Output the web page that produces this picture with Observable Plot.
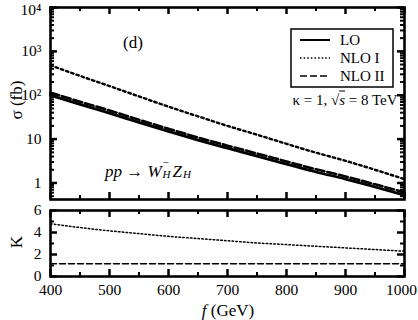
<!DOCTYPE html>
<html><head><meta charset="utf-8">
<script src="https://cdn.jsdelivr.net/npm/d3@7"></script>
<script src="https://cdn.jsdelivr.net/npm/@observablehq/plot@0.6"></script>
<style>
body{margin:0;background:#fff;}
#wrap{position:relative;width:418px;height:320px;font-family:"Liberation Serif","Times New Roman",serif;color:#000;overflow:hidden;background:#fff}
#wrap svg{position:absolute;left:0}
.t{position:absolute;white-space:nowrap;font-size:16px;line-height:1;transform:translate(-50%,-50%)}
.ss{display:inline-block;position:relative;width:11px;height:1em;vertical-align:baseline}
.ss .up{position:absolute;left:1px;top:-3px;font-size:11px;line-height:1}
.ss .dn{position:absolute;left:1px;top:9px;font-size:11px;line-height:1}
</style></head><body><div id="wrap"></div>
<script>
// ---- data ----
const fValues   = [400, 450, 500, 550, 600, 650, 700, 750, 800, 850, 900, 950, 1000];
const sigmaLO   = [100, 62, 39, 24, 15, 9.5, 6.2, 4.1, 2.7, 1.78, 1.23, 0.81, 0.53];
const sigmaNLO1 = [480, 276, 162, 94, 55, 33, 20, 12.6, 7.8, 4.9, 3.2, 2.0, 1.22];
const sigmaNLO2 = [115, 71, 45, 27.5, 17.2, 10.9, 7.1, 4.7, 3.1, 2.05, 1.41, 0.93, 0.61];
const kNLO1     = [4.8, 4.45, 4.15, 3.9, 3.65, 3.45, 3.25, 3.05, 2.9, 2.75, 2.6, 2.45, 2.3];
const kNLO2     = [1.15, 1.15, 1.15, 1.15, 1.15, 1.15, 1.15, 1.15, 1.15, 1.15, 1.15, 1.15, 1.15];
const seriesNames = ["LO", "NLO I", "NLO II"];
const xTicks      = [400, 500, 600, 700, 800, 900, 1000];
const xMinorTicks = [450, 550, 650, 750, 850, 950];
const yTicks      = [1, 10, 100, 1000, 10000];
const yTickLabels = ["1", "10", "10\u00B2", "10\u00B3", "10\u2074"];
const kTicks      = [0, 2, 4, 6];
const kMinorTicks = [1, 3, 5];

// ---- styles ----
const FONT = '"Liberation Serif","Times New Roman",serif';
const W = 418, ML = 50, MR = 14;
const innerW = W - ML - MR;
const dashTop = {"LO": null, "NLO I": "2.5,3", "NLO II": "9,3"};
const widthTop = {"LO": 2.8, "NLO I": 2.4, "NLO II": 2.6};

const rows = (arr) => fValues.map((f, i) => ({f, v: arr[i]}));
const topSeries = [sigmaLO, sigmaNLO1, sigmaNLO2];

const yMinor = d3.scaleLog().domain([0.42, 10000]).ticks().filter(d => !yTicks.includes(d));
const yMax = yTicks[yTicks.length - 1];
const xMax = xTicks[xTicks.length - 1];

function frameTicksX(innerH, major, minor) {
  return [
    Plot.tickX(major, {x: d => d, insetTop: innerH - 7, strokeWidth: 2.5}),
    Plot.tickX(major, {x: d => d, insetBottom: innerH - 7, strokeWidth: 2.5}),
    Plot.tickX(minor, {x: d => d, insetTop: innerH - 4, strokeWidth: 2}),
    Plot.tickX(minor, {x: d => d, insetBottom: innerH - 4, strokeWidth: 2})
  ];
}
function frameTicksY(major, minor) {
  return [
    Plot.tickY(major, {y: d => d, insetRight: innerW - 7, strokeWidth: 2.5}),
    Plot.tickY(major, {y: d => d, insetLeft: innerW - 7, strokeWidth: 2.5}),
    Plot.tickY(minor, {y: d => d, insetRight: innerW - 4, strokeWidth: 2}),
    Plot.tickY(minor, {y: d => d, insetLeft: innerW - 4, strokeWidth: 2})
  ];
}

const topH = 200, topMT = 7, topMB = 1;
const yFmt = d => yTickLabels[yTicks.indexOf(d)];
const plainFmt = d => String(d);
const topPlot = Plot.plot({
  width: W, height: topH,
  marginLeft: ML, marginRight: MR, marginTop: topMT, marginBottom: topMB,
  x: {domain: [400, 1000], axis: null},
  y: {type: "log", domain: [0.42, 10000], label: null},
  style: {fontFamily: FONT, fontSize: "15.5px", overflow: "visible", background: "transparent"},
  marks: [
    ...seriesNames.map((s, i) => Plot.line(rows(topSeries[i]), {
      x: "f", y: "v", curve: "monotone-x", stroke: "black",
      strokeWidth: widthTop[s], strokeDasharray: dashTop[s]
    })),
    ...frameTicksX(topH - topMT - topMB, xTicks, xMinorTicks),
    ...frameTicksY(yTicks, yMinor),
    Plot.frame({stroke: "black", strokeWidth: 2.6}),
    Plot.axisY(yTicks.filter(d => d !== yMax), {tickSize: 0, tickPadding: 9, label: null, fontSize: 15.5, tickFormat: yFmt}),
    Plot.axisY([yMax], {tickSize: 0, tickPadding: 9, label: null, fontSize: 15.5, tickFormat: yFmt, dy: 3})
  ]
});
topPlot.style.top = "0px";

const botH = 120, botMT = 10, botMB = 44;
const dashBot = {"NLO I": "1.6,2.2", "NLO II": "6,3"};
const botPlot = Plot.plot({
  width: W, height: botH,
  marginLeft: ML, marginRight: MR, marginTop: botMT, marginBottom: botMB,
  x: {domain: [400, 1000], label: null},
  y: {domain: [0, 6], label: null},
  style: {fontFamily: FONT, fontSize: "15.5px", overflow: "visible", background: "transparent"},
  marks: [
    Plot.line(rows(kNLO1), {x: "f", y: "v", curve: "monotone-x", stroke: "black", strokeWidth: 1.5, strokeDasharray: dashBot["NLO I"]}),
    Plot.line(rows(kNLO2), {x: "f", y: "v", curve: "monotone-x", stroke: "black", strokeWidth: 1.5, strokeDasharray: dashBot["NLO II"]}),
    ...frameTicksX(botH - botMT - botMB, xTicks, xMinorTicks),
    ...frameTicksY(kTicks, kMinorTicks),
    Plot.frame({stroke: "black", strokeWidth: 2.6}),
    Plot.axisY(kTicks, {tickSize: 0, tickPadding: 9, label: null, fontSize: 15.5, tickFormat: plainFmt}),
    Plot.axisX(xTicks.filter(d => d !== xMax), {tickSize: 0, tickPadding: 7, label: null, fontSize: 15.5, tickFormat: plainFmt}),
    Plot.axisX([xMax], {tickSize: 0, tickPadding: 7, label: null, fontSize: 15.5, tickFormat: plainFmt, dx: -3})
  ]
});
botPlot.style.top = "200px";

const wrap = document.getElementById("wrap");
wrap.appendChild(topPlot);
wrap.appendChild(botPlot);

function addText(html, x, y, extra = "") {
  const d = document.createElement("div");
  d.className = "t";
  d.style.left = x + "px";
  d.style.top = y + "px";
  if (extra) d.style.cssText += extra;
  d.innerHTML = html;
  wrap.appendChild(d);
  return d;
}

// annotations
addText("(d)", 133, 42, "font-size:17px");
addText("\u03BA = 1, \u221A<span style='text-decoration:overline'><i>s</i></span> = 8 TeV", 345, 100, "font-size:15px");
addText("<i>pp</i> \u2192 <i>W</i><span class='ss'><span class='up'>\u2212</span><i class='dn'>H</i></span><i>Z</i><span class='ss' style='width:9px'><i class='dn'>H</i></span>", 148, 170, "font-size:17px");
addText("\u03C3 (fb)", 16, 100, "transform:translate(-50%,-50%) rotate(-90deg);font-size:17px");
addText("K", 16, 242, "transform:translate(-50%,-50%) rotate(-90deg);font-size:17px");
addText("<i>f</i> (GeV)", 228, 310, "font-size:17px");

// legend
const leg = d3.select(wrap).append("svg")
  .attr("width", 104).attr("height", 60)
  .style("left", "290px").style("top", "28px");
leg.append("rect").attr("x", 1).attr("y", 1).attr("width", 102).attr("height", 58)
  .attr("fill", "white").attr("stroke", "black").attr("stroke-width", 1.5);
seriesNames.forEach((s, i) => {
  const y = 12 + i * 18;
  leg.append("line").attr("x1", 10).attr("x2", 40).attr("y1", y).attr("y2", y)
    .attr("stroke", "black").attr("stroke-width", s === "LO" ? 2 : 1.5)
    .attr("stroke-dasharray", s === "LO" ? null : (s === "NLO I" ? "1.6,2" : "7,3"));
  leg.append("text").attr("x", 50).attr("y", y).attr("dy", "0.35em")
    .attr("font-family", FONT).attr("font-size", 15).text(s);
});
</script></body></html>
